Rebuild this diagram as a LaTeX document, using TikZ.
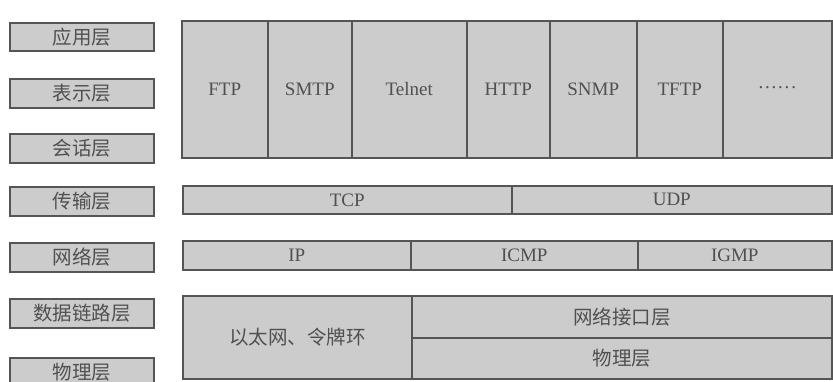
\documentclass[tikz,border=0pt]{standalone}
\usepackage{fontspec}
\setmainfont{Liberation Serif}
\newfontfamily\cjk{Noto Sans CJK SC}
\definecolor{cellfill}{RGB}{204,204,204}
\definecolor{cellline}{RGB}{85,85,85}
\definecolor{celltext}{RGB}{80,80,80}
\begin{document}
\begin{tikzpicture}[x=1pt,y=-1pt,
  cell/.style={draw=cellline,fill=cellfill,line width=1.6pt,inner sep=0pt,
    text=celltext,font=\fontsize{19}{19}\selectfont},
  cn/.style={cell,font=\cjk\fontsize{19.5}{19.5}\selectfont},
]
\useasboundingbox (0,0) rectangle (833,381);
% helper: \cellat{name}{x1}{y1}{x2}{y2}{style}{text}
\newcommand\cellat[7]{%
  \node[#6,anchor=north west,minimum width=#4-#2,minimum height=#5-#3] (#1) at (#2,#3) {#7};}
% left OSI labels
\cellat{osi1}{9}{22}{153}{50}{cn}{应用层}
\cellat{osi2}{9}{78}{153}{107}{cn}{表示层}
\cellat{osi3}{9}{133}{153}{162}{cn}{会话层}
\cellat{osi4}{9}{186}{153}{215}{cn}{传输层}
\cellat{osi5}{9}{242}{153}{271}{cn}{网络层}
\cellat{osi6}{9}{298}{153}{327}{cn}{数据链路层}
\cellat{osi7}{9}{357}{153}{386}{cn}{物理层}
% application protocols
\cellat{ftp}{181}{20}{267}{157}{cell}{FTP}
\cellat{smtp}{267}{20}{351}{157}{cell}{SMTP}
\cellat{telnet}{351}{20}{466}{157}{cell}{Telnet}
\cellat{http}{466}{20}{549}{157}{cell}{HTTP}
\cellat{snmp}{549}{20}{636}{157}{cell}{SNMP}
\cellat{tftp}{636}{20}{722}{157}{cell}{TFTP}
\cellat{more}{722}{20}{831}{157}{cell}{\raisebox{4pt}{.\kern1.8pt.\kern1.8pt.\kern1.8pt.\kern1.8pt.\kern1.8pt.}}
% transport
\cellat{tcp}{182}{185}{511}{213}{cell}{TCP}
\cellat{udp}{511}{185}{831}{213}{cell}{UDP}
% network
\cellat{ip}{182}{240}{410}{269}{cell}{IP}
\cellat{icmp}{410}{240}{637}{269}{cell}{ICMP}
\cellat{igmp}{637}{240}{831}{269}{cell}{IGMP}
% link / physical
\cellat{eth}{182}{295}{411}{378}{cn}{以太网、令牌环}
\cellat{nif}{411}{295}{831}{337}{cn}{网络接口层}
\cellat{phy}{411}{337}{831}{378}{cn}{物理层}
\end{tikzpicture}
\end{document}
